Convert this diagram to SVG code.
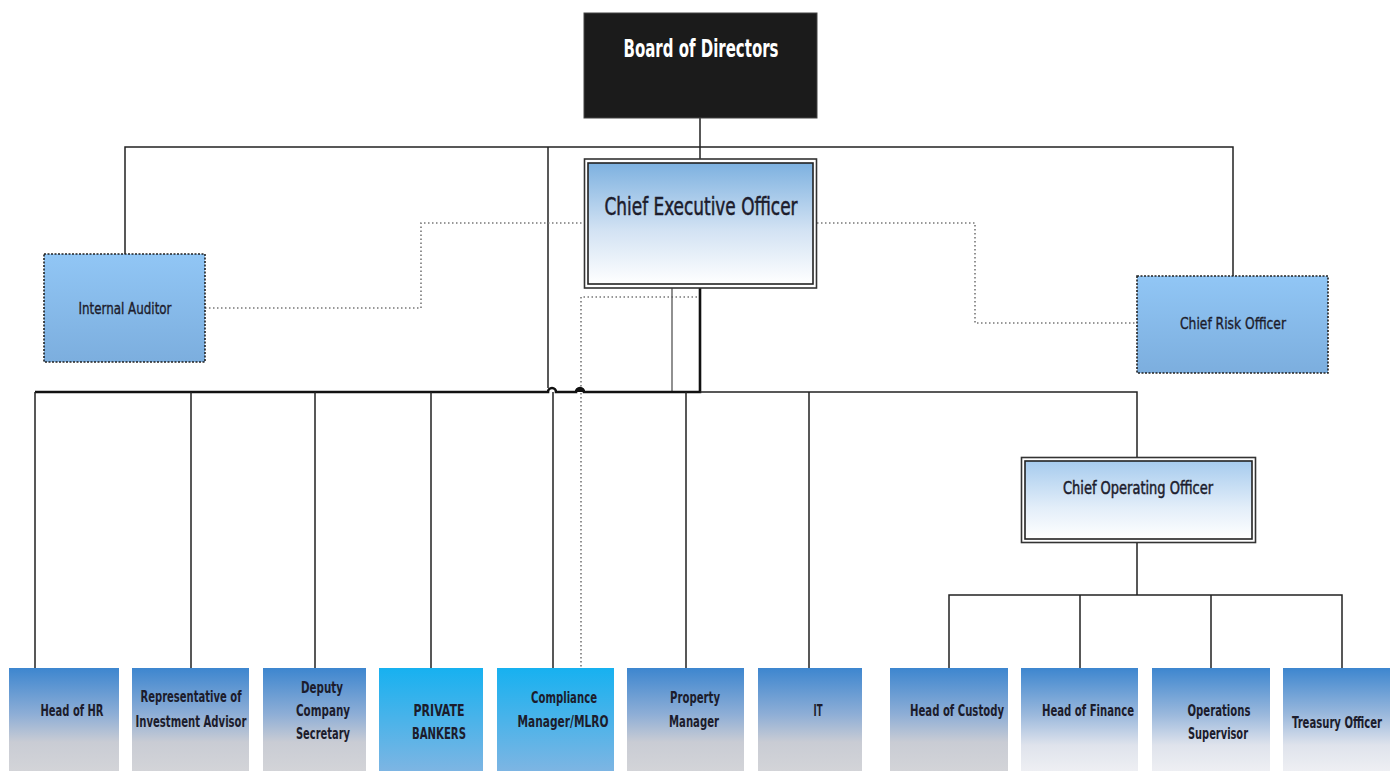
<svg xmlns="http://www.w3.org/2000/svg" width="1392" height="771" viewBox="0 0 1392 771">
<defs>
<linearGradient id="gBlue" x1="0" y1="0" x2="0" y2="1">
<stop offset="0" stop-color="#3d86cf"/><stop offset="0.45" stop-color="#8eaed6"/><stop offset="0.72" stop-color="#c9ccd4"/><stop offset="1" stop-color="#d3d4d8"/>
</linearGradient>
<linearGradient id="gBlueL" x1="0" y1="0" x2="0" y2="1">
<stop offset="0" stop-color="#3d86cf"/><stop offset="0.45" stop-color="#9ab8dc"/><stop offset="0.75" stop-color="#dfe3ec"/><stop offset="1" stop-color="#eeeff3"/>
</linearGradient>
<linearGradient id="gCyan" x1="0" y1="0" x2="0" y2="1">
<stop offset="0" stop-color="#17b1f0"/><stop offset="1" stop-color="#7db5e3"/>
</linearGradient>
<linearGradient id="gAud" x1="0" y1="0" x2="0" y2="1">
<stop offset="0" stop-color="#91c6f5"/><stop offset="1" stop-color="#7caede"/>
</linearGradient>
<linearGradient id="gCeo" x1="0" y1="0" x2="0" y2="1">
<stop offset="0" stop-color="#7db1e0"/><stop offset="0.55" stop-color="#d2e2f3"/><stop offset="1" stop-color="#ffffff"/>
</linearGradient>
<linearGradient id="gCoo" x1="0" y1="0" x2="0" y2="1">
<stop offset="0" stop-color="#a6cbee"/><stop offset="0.6" stop-color="#e3eef9"/><stop offset="1" stop-color="#ffffff"/>
</linearGradient>
</defs>
<style>
text{font-family:"Liberation Sans Narrow","DejaVu Sans Condensed","Liberation Sans",sans-serif;fill:#1c1c2c;text-anchor:middle}
.b{font-weight:bold;font-size:15px}
.r{font-size:16px;stroke:#1c1c2c;stroke-width:0.35}
.m{stroke:#1c1c2c;stroke-width:0.5}
.ln{fill:none;stroke:#222;stroke-width:1.5}
.thk{fill:none;stroke:#111;stroke-width:2.6}
.thin{fill:none;stroke:#555;stroke-width:1.3}
.dot{fill:none;stroke:#777;stroke-width:1.6;stroke-dasharray:1.5 2.5}
.dbox{stroke:#222;stroke-width:1.6;stroke-dasharray:2 1.5}
</style>
<rect width="1392" height="771" fill="#fff"/>
<g id="connectors">
<path class="ln" d="M125,254 V147 H700 M700,118 V160 M700,147 H1233 V276"/>
<path class="ln" d="M548,147 V388"/>
<path class="dot" d="M205,308 H421 V223 H584"/>
<path class="dot" d="M817,223 H975 V323 H1137"/>
<path class="dot" d="M697,297 H581 V668"/>
<path class="thin" d="M672,288 V392"/>
<path class="thk" d="M700,288 V392 H584 a4,4 0 0 0 -8,0 H556 a4,4 0 0 0 -8,0 H35"/>
<path d="M576,392 a4,4 0 0 1 8,0 z" fill="#111"/>
<path class="ln" d="M700,392 H1137 V457"/>
<path class="ln" d="M35,392 V668 M191,392 V668 M315,392 V668 M431,392 V668 M553,392 V668 M686,392 V668 M809,392 V668"/>
<path class="ln" d="M1137,543 V595 M949,668 V595 H1342 V668 M1080,595 V668 M1211,595 V668"/>
</g>
<g id="board">
<rect x="584" y="13" width="233" height="105" fill="#1b1b1b" stroke="#444" stroke-width="1"/>
<text x="701" y="57" style="font-size:24px;font-weight:bold;fill:#fff" textLength="155" lengthAdjust="spacingAndGlyphs">Board of Directors</text>
</g>
<g id="ceo">
<rect x="584.5" y="159" width="232" height="129" fill="#fff" stroke="#333" stroke-width="1.6"/>
<rect x="588" y="163" width="225" height="121" fill="url(#gCeo)" stroke="#222" stroke-width="1.6"/>
<text class="m" x="701" y="215" style="font-size:24px" textLength="193" lengthAdjust="spacingAndGlyphs">Chief Executive Officer</text>
</g>
<g id="internal-auditor">
<rect x="44" y="254" width="161" height="108" fill="url(#gAud)" class="dbox"/>
<text class="r" x="125" y="314" textLength="93" lengthAdjust="spacingAndGlyphs">Internal Auditor</text>
</g>
<g id="chief-risk-officer">
<rect x="1137" y="276" width="191" height="97" fill="url(#gAud)" class="dbox"/>
<text class="r" x="1233" y="329" textLength="106" lengthAdjust="spacingAndGlyphs">Chief Risk Officer</text>
</g>
<g id="coo">
<rect x="1021.5" y="457.5" width="234" height="85" fill="#fff" stroke="#333" stroke-width="1.6"/>
<rect x="1025" y="461" width="227" height="78" fill="url(#gCoo)" stroke="#222" stroke-width="1.6"/>
<text class="m" x="1138" y="494" style="font-size:18px" textLength="150" lengthAdjust="spacingAndGlyphs">Chief Operating Officer</text>
</g>
<g id="head-hr">
<rect x="9" y="668" width="110" height="103" fill="url(#gBlue)"/>
<text class="b" x="72" y="716" textLength="63" lengthAdjust="spacingAndGlyphs">Head of HR</text>
</g>
<g id="rep-investment-advisor">
<rect x="132" y="668" width="117" height="103" fill="url(#gBlue)"/>
<text class="b" x="191" y="702" textLength="101" lengthAdjust="spacingAndGlyphs">Representative of</text>
<text class="b" x="191" y="727" textLength="111" lengthAdjust="spacingAndGlyphs">Investment Advisor</text>
</g>
<g id="deputy-secretary">
<rect x="263" y="668" width="103" height="103" fill="url(#gBlue)"/>
<text class="b" x="322" y="693" textLength="42" lengthAdjust="spacingAndGlyphs">Deputy</text>
<text class="b" x="323" y="716" textLength="54" lengthAdjust="spacingAndGlyphs">Company</text>
<text class="b" x="323" y="739" textLength="54" lengthAdjust="spacingAndGlyphs">Secretary</text>
</g>
<g id="private-bankers">
<rect x="379" y="668" width="104" height="103" fill="url(#gCyan)"/>
<text class="b" x="439" y="716" textLength="51" lengthAdjust="spacingAndGlyphs">PRIVATE</text>
<text class="b" x="439" y="739" textLength="54" lengthAdjust="spacingAndGlyphs">BANKERS</text>
</g>
<g id="compliance">
<rect x="497" y="668" width="117" height="103" fill="url(#gCyan)"/>
<text class="b" x="564" y="703" textLength="66" lengthAdjust="spacingAndGlyphs">Compliance</text>
<text class="b" x="563" y="727" textLength="91" lengthAdjust="spacingAndGlyphs">Manager/MLRO</text>
</g>
<g id="property-manager">
<rect x="627" y="668" width="117" height="103" fill="url(#gBlue)"/>
<text class="b" x="695" y="703" textLength="50" lengthAdjust="spacingAndGlyphs">Property</text>
<text class="b" x="694" y="727" textLength="50" lengthAdjust="spacingAndGlyphs">Manager</text>
</g>
<g id="it">
<rect x="758" y="668" width="104" height="103" fill="url(#gBlue)"/>
<text class="b" x="818" y="716" textLength="9" lengthAdjust="spacingAndGlyphs">IT</text>
</g>
<g id="head-custody">
<rect x="890" y="668" width="118" height="103" fill="url(#gBlue)"/>
<text class="b" x="957" y="716" textLength="94" lengthAdjust="spacingAndGlyphs">Head of Custody</text>
</g>
<g id="head-finance">
<rect x="1021" y="668" width="117" height="103" fill="url(#gBlueL)"/>
<text class="b" x="1088" y="716" textLength="92" lengthAdjust="spacingAndGlyphs">Head of Finance</text>
</g>
<g id="operations-supervisor">
<rect x="1152" y="668" width="118" height="103" fill="url(#gBlueL)"/>
<text class="b" x="1219" y="716" textLength="63" lengthAdjust="spacingAndGlyphs">Operations</text>
<text class="b" x="1218" y="739" textLength="60" lengthAdjust="spacingAndGlyphs">Supervisor</text>
</g>
<g id="treasury-officer">
<rect x="1283" y="668" width="107" height="103" fill="url(#gBlueL)"/>
<text class="b" x="1382" y="728" style="text-anchor:end" textLength="90" lengthAdjust="spacingAndGlyphs">Treasury Officer</text>
</g>
</svg>
